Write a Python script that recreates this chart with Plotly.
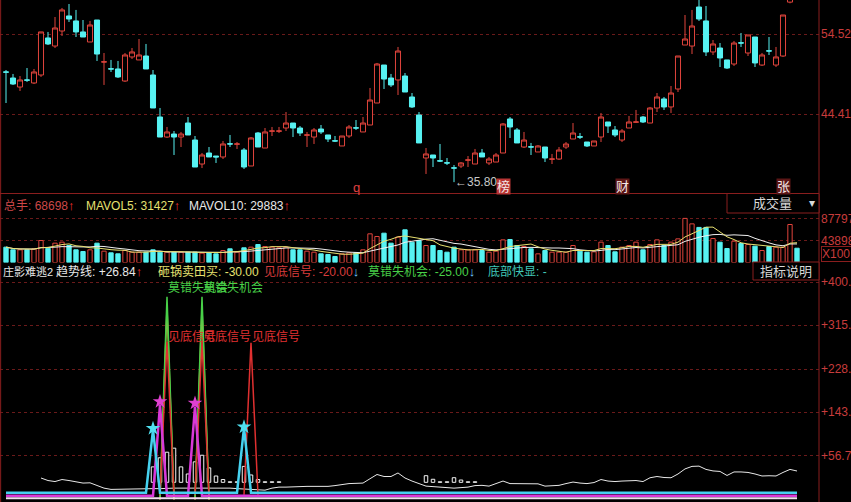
import plotly.graph_objects as go
import pandas as pd

# ---------------- data ----------------
opens = [49.72, 48.96, 47.82, 48.71, 48.33, 49.34, 54.02, 53.00, 54.90, 56.80,
         56.17, 54.78, 53.51, 56.29, 50.98, 50.12, 50.10, 48.58, 51.62, 51.24,
         51.74, 49.34, 44.03, 41.50, 41.88, 41.50, 43.27, 41.12, 38.09, 39.48,
         39.10, 38.98, 40.64, 40.60, 39.86, 37.84, 42.01, 40.11, 42.24, 42.24,
         42.64, 43.27, 42.64, 41.74, 41.50, 42.51, 41.76, 41.02, 40.37, 41.63,
         42.66, 42.14, 43.02, 45.80, 50.60, 48.96, 48.71, 49.21, 46.56, 44.28,
         38.85, 39.23, 38.49, 38.24, 37.60, 37.84, 38.58, 38.09, 39.48, 38.22,
         38.34, 39.48, 43.78, 42.39, 40.24, 40.26, 39.61, 40.24, 38.70, 38.72,
         40.24, 41.25, 41.52, 40.87, 40.37, 41.50, 43.40, 42.39, 41.12, 42.64,
         43.38, 44.03, 43.27, 45.17, 46.31, 45.30, 47.57, 53.13, 53.00, 57.93,
         56.17, 52.25, 52.75, 51.24, 50.73, 53.40, 52.12, 54.14, 50.60, 52.39,
         50.60, 51.74, 58.55, 60.50]
highs = [49.97, 49.47, 49.21, 50.22, 50.10, 54.78, 54.78, 56.67, 57.81, 58.31,
         57.56, 56.29, 56.17, 56.29, 52.12, 51.24, 51.11, 52.12, 52.75, 53.89,
         53.26, 49.97, 45.17, 42.77, 42.26, 42.14, 44.03, 41.63, 39.48, 40.24,
         39.10, 41.00, 41.76, 40.87, 40.11, 41.50, 42.14, 42.64, 42.77, 42.77,
         44.66, 43.27, 42.89, 42.14, 42.64, 43.02, 41.76, 41.63, 41.63, 43.02,
         43.65, 44.03, 47.70, 50.86, 50.60, 49.47, 52.88, 49.59, 47.06, 44.66,
         40.11, 39.23, 40.62, 38.85, 37.96, 38.34, 39.10, 39.99, 39.99, 38.98,
         39.48, 43.27, 44.03, 42.64, 42.14, 40.75, 40.49, 40.24, 39.36, 40.24,
         40.87, 43.27, 42.01, 40.87, 41.00, 44.54, 43.40, 42.89, 42.51, 44.16,
         44.92, 44.16, 45.30, 47.06, 46.56, 47.95, 51.74, 56.92, 57.56, 58.82,
         58.06, 53.76, 53.38, 51.24, 53.64, 54.65, 54.40, 54.14, 52.12, 54.14,
         52.88, 56.92, 60.00, 61.00]
lows = [45.80, 48.08, 47.32, 48.46, 48.20, 49.09, 53.13, 52.75, 54.27, 56.04,
        54.14, 54.14, 53.51, 51.11, 48.08, 49.72, 48.96, 48.46, 51.36, 51.24,
        50.10, 45.17, 41.50, 41.38, 39.23, 40.24, 41.76, 37.71, 37.58, 38.98,
        38.22, 38.72, 40.24, 39.99, 37.46, 37.84, 40.24, 40.11, 41.63, 42.01,
        42.26, 41.50, 41.63, 40.24, 40.62, 41.88, 40.87, 40.87, 40.37, 41.38,
        42.39, 42.14, 43.02, 45.80, 47.57, 47.82, 46.81, 47.19, 45.17, 40.75,
        36.83, 37.71, 38.34, 37.96, 35.80, 37.58, 37.71, 38.09, 38.98, 37.96,
        38.34, 39.48, 41.38, 40.75, 40.11, 39.23, 39.61, 38.34, 38.09, 38.60,
        39.99, 41.25, 41.25, 40.24, 40.37, 40.87, 42.01, 41.50, 40.87, 42.64,
        43.27, 43.27, 43.27, 44.66, 44.92, 44.54, 47.19, 53.13, 51.99, 56.17,
        51.74, 51.87, 50.35, 50.10, 50.48, 52.88, 51.74, 50.35, 50.48, 51.87,
        50.35, 51.62, 58.40, 59.10]
closes = [49.70, 48.20, 48.71, 48.69, 49.72, 54.78, 53.26, 55.28, 57.56, 56.42,
          54.78, 54.14, 55.66, 51.99, 51.00, 50.10, 49.09, 51.87, 52.25, 51.87,
          50.10, 45.17, 41.50, 42.14, 41.50, 41.88, 41.76, 37.71, 39.23, 38.98,
          38.98, 40.62, 40.62, 40.62, 37.71, 41.38, 40.24, 42.14, 42.26, 42.26,
          43.27, 42.64, 42.01, 41.76, 42.39, 42.14, 41.25, 41.00, 41.63, 42.77,
          42.64, 43.27, 46.18, 50.73, 48.83, 48.08, 52.37, 47.19, 45.30, 40.75,
          39.36, 38.85, 38.47, 38.22, 37.58, 38.22, 38.60, 39.48, 38.98, 38.72,
          39.23, 43.15, 42.77, 40.75, 41.12, 40.24, 40.37, 38.85, 38.72, 39.86,
          40.62, 42.01, 41.50, 40.37, 41.00, 44.03, 42.89, 41.76, 42.26, 43.40,
          43.40, 43.40, 45.17, 46.56, 45.30, 47.06, 51.74, 53.89, 55.53, 56.42,
          52.25, 53.26, 51.49, 50.22, 53.38, 53.38, 54.40, 50.86, 51.87, 52.37,
          51.62, 56.92, 59.60, 59.40]
volumes = [30600, 25300, 25300, 25300, 27300, 43900, 28500, 38600, 40600, 33900,
           25300, 21900, 25300, 38600, 22600, 19300, 17300, 23900, 20600, 20600,
           20600, 25300, 20600, 20600, 20600, 20600, 20600, 20600, 18600, 19300,
           17300, 23900, 27300, 20600, 29300, 30600, 35900, 31900, 30600, 29300,
           30600, 25300, 25300, 22600, 20600, 17300, 16000, 12000, 17300, 19300,
           19300, 25300, 57200, 51900, 58500, 38600, 50600, 65200, 40600, 43900,
           33900, 33900, 23900, 20600, 30600, 25300, 25300, 25300, 23900, 20600,
           22600, 45200, 45900, 33900, 31900, 27300, 17300, 23900, 20600, 20600,
           20600, 33900, 22600, 20600, 21300, 40600, 33900, 21300, 30600, 33900,
           40600, 25300, 35900, 45200, 33900, 40600, 47200, 88000, 77100, 70000,
           70000, 47900, 40500, 27900, 42500, 37900, 35900, 32600, 23900, 31900,
           30600, 30600, 75800, 28500]
trend = [None, None, None, None, None, 13, 8, 6, 10, 8, 5, 3, 3.5, -1.5, -7, -9.5, -9, -9, -8, -8, -8,
         -8, -8, -7, -7, -7, -7, -6, -6, -6, -6, -6, -7, -8, -9, -10, -11,
         -11, -7, -5, -5, -4, -3.5, -3.5, -3.5, -3.5, -3.5, -2, 0, 2, 2.5, 3,
         11.6, 20, 16, 16, 23, 13, 7, 2, -3, -4,
         -5, -6, -7, -6, -5, -2, -1.5, -3, 2, 7,
         2, 1.5, 1.5, 1.5, 1.5, -3, -2, -1.5, 2, 5,
         3, 2, 4, 10, 7, 6, 7, 8, 8, 6,
         13.5, 16, 14, 13.5, 21, 31, 36, 36.5, 30, 27,
         26, 18, 25, 25, 24, 21, 17, 17.5, 17, 24,
         30, 26.84]

# white hollow sticks (index -> top value), drawn from a common base
stick_idx = [21, 22, 23, 24, 25, 26, 27, 28, 29, 30, 31, 32, 33, 34, 35, 36, 37, 38, 39,
             60, 61, 62, 63, 64, 65, 66, 67]
stick_top = [35, 53, 64, 72, 35, 21, 45, 58, 33, 17, 10, 5.5, 5.5, 36, 19, 10, 5.5, 5.5, 5.5,
             17.6, 10.5, 5.5, 5.5, 13.6, 9, 5.5, 5.5]
stick_base = 4.5

# spike series: baseline value + spike days
cyan_base, cyan_spikes = -16, {21: 108, 34: 112}
magenta_base, magenta_spikes = -22, {22: 157, 27: 154}
band_base = -27
green_base, green_spikes = -25, {23: 371, 28: 371}
yellow_base, yellow_spikes = -30, {23: 350, 28: 350}
red_base, red_spikes = -20, {23: 282, 28: 282, 35: 280}
magenta_stars = {22: 164, 27: 161}
cyan_stars = {21: 111, 34: 114}

events = [(50, "q"), (71, "榜"), (88, "财"), (111, "张")]
low_mark_idx, low_mark_val = 64, 35.80

n = len(opens)
assert all(len(a) == n for a in (highs, lows, closes, volumes, trend))
idx = list(range(n))

# ---------------- styles ----------------
RED = "#e0443c"
CYAN = "#57f2f2"
GRID = "#6a1a1a"
AXLINE = "#8a1e1e"
AXTXT = "#c83c3c"
FONT = "Liberation Sans, Arial, Noto Sans CJK SC, sans-serif"

up = [c >= o for o, c in zip(opens, closes)]

fig = go.Figure()

# main candles
fig.add_trace(go.Candlestick(
    x=idx, open=opens, high=highs, low=lows, close=closes,
    increasing=dict(line=dict(color=RED, width=1), fillcolor="black"),
    decreasing=dict(line=dict(color=CYAN, width=1), fillcolor=CYAN),
    whiskerwidth=0, xaxis="x", yaxis="y", hoverinfo="skip", showlegend=False))

# volume
fig.add_trace(go.Bar(
    x=idx, y=volumes, width=0.62,
    marker=dict(color=["black" if u else CYAN for u in up],
                line=dict(color=[RED if u else CYAN for u in up], width=1)),
    xaxis="x2", yaxis="y2", hoverinfo="skip"))
vs = pd.Series(volumes, dtype=float)
ma5 = vs.rolling(5, min_periods=1).mean()
ma10 = vs.rolling(10, min_periods=1).mean()
fig.add_trace(go.Scatter(x=idx, y=ma10, mode="lines", line=dict(color="#f0f0f0", width=1),
                         xaxis="x2", yaxis="y2", hoverinfo="skip"))
fig.add_trace(go.Scatter(x=idx, y=ma5, mode="lines", line=dict(color="#e8e070", width=1),
                         xaxis="x2", yaxis="y2", hoverinfo="skip"))

# indicator
fig.add_trace(go.Scatter(x=idx, y=trend, mode="lines", line=dict(color="#e8e8e8", width=1),
                         xaxis="x3", yaxis="y3", hoverinfo="skip"))
fig.add_trace(go.Bar(x=stick_idx, y=[t - stick_base for t in stick_top], base=stick_base,
                     width=0.5, marker=dict(color="black", line=dict(color="#f4f4f4", width=1)),
                     xaxis="x3", yaxis="y3", hoverinfo="skip"))


def local_spikes(base, spikes):
    vals = [None] * n
    for k, v in spikes.items():
        for j in (k - 1, k + 1):
            if 0 <= j < n and vals[j] is None:
                vals[j] = base
        vals[k] = v
    return vals


fig.add_trace(go.Scatter(x=idx, y=local_spikes(yellow_base, yellow_spikes), mode="lines",
                         line=dict(color="#c8b040", width=1.5), connectgaps=False,
                         xaxis="x3", yaxis="y3", hoverinfo="skip"))
fig.add_trace(go.Scatter(x=idx, y=local_spikes(green_base, green_spikes), mode="lines",
                         line=dict(color="#48d048", width=1.5), connectgaps=False,
                         xaxis="x3", yaxis="y3", hoverinfo="skip"))
fig.add_trace(go.Scatter(x=idx, y=local_spikes(red_base, red_spikes), mode="lines",
                         line=dict(color="#e03030", width=1.5), connectgaps=False,
                         xaxis="x3", yaxis="y3", hoverinfo="skip"))
fig.add_trace(go.Scatter(x=idx, y=[magenta_spikes.get(i, magenta_base) for i in idx], mode="lines",
                         line=dict(color="#d838d8", width=2.5),
                         xaxis="x3", yaxis="y3", hoverinfo="skip"))
fig.add_trace(go.Scatter(x=idx, y=[cyan_spikes.get(i, cyan_base) for i in idx], mode="lines",
                         line=dict(color="#46d2f0", width=2.5),
                         xaxis="x3", yaxis="y3", hoverinfo="skip"))
fig.add_trace(go.Scatter(x=idx, y=[band_base] * n, mode="lines",
                         line=dict(color="#f4dcf0", width=2),
                         xaxis="x3", yaxis="y3", hoverinfo="skip"))
fig.add_trace(go.Scatter(x=list(magenta_stars.keys()), y=list(magenta_stars.values()), mode="markers",
                         marker=dict(symbol="star", size=11, color="#e040d0"),
                         xaxis="x3", yaxis="y3", hoverinfo="skip"))
fig.add_trace(go.Scatter(x=list(cyan_stars.keys()), y=list(cyan_stars.values()), mode="markers",
                         marker=dict(symbol="star", size=11, color="#50e0f0"),
                         xaxis="x3", yaxis="y3", hoverinfo="skip"))

# ---------------- layout ----------------
W, H = 851, 502
PW = 819.0
xr = [-6 / 7, -6 / 7 + PW / 7]


def py(px):
    return 1 - px / H


def xaxis(anchor):
    return dict(domain=[0, 1], range=xr, showgrid=False, zeroline=False, showticklabels=False,
                ticks="", showline=False, anchor=anchor, fixedrange=True, automargin=False)


tickfont = dict(color=AXTXT, size=12, family=FONT)
ycommon = dict(side="right", showgrid=True, gridcolor=GRID, griddash="dot", gridwidth=1,
               zeroline=False, ticks="", showline=False, tickfont=tickfont, fixedrange=True,
               ticklabelstandoff=1, automargin=False)

ann = []


def label(xpx, ypx, html, size=12):
    ann.append(dict(x=xpx / PW, y=py(ypx), xref="paper", yref="paper", text=html, showarrow=False,
                    xanchor="left", yanchor="middle", font=dict(size=size, family=FONT)))


def sp(t, c):
    return f"<span style='color:{c}'>{t}</span>"


def arrow(t, c):
    return f"<span style='color:{c};font-size:13px'><b>{t}</b></span>"


label(2, 205, sp("总手: 68698", "#cc4848") + arrow("↑", "#f03030"))
label(84, 205, sp("MAVOL5: 31427", "#e6e070") + arrow("↑", "#f03030"))
label(187, 205, sp("MAVOL10: 29883", "#e8e8e8") + arrow("↑", "#f03030"))
label(1, 271, sp("庄影难逃2", "#e8e8e8"), size=11)
label(54, 271, sp("趋势线: +26.84", "#e8e8e8") + arrow("↑", "#f03030"))
label(156, 271, sp("砸锅卖田买: -30.00", "#e6e070"))
label(262, 271, sp("见底信号: -20.00", "#d83c3c") + arrow("↓", "#70d0ff"))
label(366, 271, sp("莫错失机会: -25.00", "#48d048") + arrow("↓", "#70d0ff"))
label(486, 271, sp("底部快显: -", "#40c8b8"))

# box texts
ann.append(dict(x=772 / PW, y=py(203.5), xref="paper", yref="paper", text="成交量", showarrow=False,
                font=dict(size=13, color="#d8d8d8", family=FONT), xanchor="center", yanchor="middle"))
ann.append(dict(x=812 / PW, y=py(203), xref="paper", yref="paper", text="▾", showarrow=False,
                font=dict(size=12, color="#d8d8d8", family=FONT), xanchor="center", yanchor="middle"))
ann.append(dict(x=786 / PW, y=py(271), xref="paper", yref="paper", text="指标说明", showarrow=False,
                font=dict(size=13, color="#d8d8d8", family=FONT), xanchor="center", yanchor="middle"))
ann.append(dict(x=821 / PW, y=py(254), xref="paper", yref="paper", text="X100.0", showarrow=False,
                font=dict(size=12, color=AXTXT, family=FONT), xanchor="left", yanchor="middle",
                bordercolor=AXLINE, borderwidth=1, borderpad=0))

# spike labels
for k in green_spikes:
    ann.append(dict(x=k, y=389, xref="x3", yref="y3", text="莫错失机会", showarrow=False,
                    xanchor="left", yanchor="middle", xshift=-1,
                    font=dict(size=12, color="#48d048", family=FONT)))
for k in red_spikes:
    ann.append(dict(x=k, y=292, xref="x3", yref="y3", text="见底信号", showarrow=False,
                    xanchor="left", yanchor="middle", xshift=-1,
                    font=dict(size=12, color="#e03030", family=FONT)))

# event markers in main chart
for k, t in events:
    if t == "q":
        ann.append(dict(x=k, y=py(187), xref="x", yref="paper", text=t, showarrow=False,
                        font=dict(size=13, color="#e04040", family=FONT), yanchor="middle"))
    else:
        bg = "#b83434" if t == "榜" else "#5c1616"
        ann.append(dict(x=k, y=py(186), xref="x", yref="paper", text=t, showarrow=False,
                        font=dict(size=13, color="#f4e8e8", family=FONT), yanchor="middle",
                        bgcolor=bg, borderpad=0))

# low marker
ann.append(dict(x=low_mark_idx, y=low_mark_val, xref="x", yref="y", text="←35.80", showarrow=False,
                xanchor="left", yanchor="middle", xshift=-1,
                font=dict(size=12, color="#c8c8c8", family=FONT)))

shapes = [
    dict(type="line", xref="paper", yref="paper", x0=1, x1=1, y0=0, y1=1,
         line=dict(color=AXLINE, width=1)),
    dict(type="line", xref="paper", yref="paper", x0=0.0008, x1=0.0008, y0=0, y1=1,
         line=dict(color=AXLINE, width=1)),
    dict(type="line", xref="paper", yref="paper", x0=0, x1=1, y0=py(193.5), y1=py(193.5),
         line=dict(color=AXLINE, width=1)),
    dict(type="rect", xref="paper", yref="paper", x0=727 / PW, x1=1, y0=py(213), y1=py(193.5),
         line=dict(color=AXLINE, width=1), fillcolor="black", layer="above"),
    dict(type="rect", xref="paper", yref="paper", x0=753 / PW, x1=1, y0=py(280), y1=py(262),
         line=dict(color=AXLINE, width=1), fillcolor="black", layer="above"),
]

fig.update_layout(
    width=W, height=H, autosize=False,
    margin=dict(l=0, r=W - PW, t=0, b=0, pad=0, autoexpand=False),
    paper_bgcolor="black", plot_bgcolor="black",
    showlegend=False, barmode="overlay", boxgap=0.15, boxgroupgap=0.15,
    hovermode=False,
    xaxis=dict(**xaxis("y"), rangeslider=dict(visible=False)),
    xaxis2=xaxis("y2"),
    xaxis3=xaxis("y3"),
    yaxis=dict(domain=[py(193), 1], range=[34.426, 58.817],
               tickvals=[54.52, 44.41], ticktext=["54.52", "44.41"], anchor="x", **ycommon),
    yaxis2=dict(domain=[py(262.5), py(193)], range=[0, 138680],
                tickvals=[87797, 43898], ticktext=["87797", "43898"], anchor="x2", **ycommon),
    yaxis3=dict(domain=[0, py(263)], range=[-34.4, 437.9],
                tickvals=[400, 315, 228, 143, 56.7],
                ticktext=["+400.00", "+315.00", "+228.00", "+143.00", "+56.70"], anchor="x3", **ycommon),
    annotations=ann,
    shapes=shapes,
)

fig.write_html(
    "out.html",
    config={"displayModeBar": False, "responsive": False, "staticPlot": True},
    post_script=("document.body.style.margin='0';document.body.style.padding='0';"
                 "document.body.style.background='black';document.body.style.overflow='hidden';"))
